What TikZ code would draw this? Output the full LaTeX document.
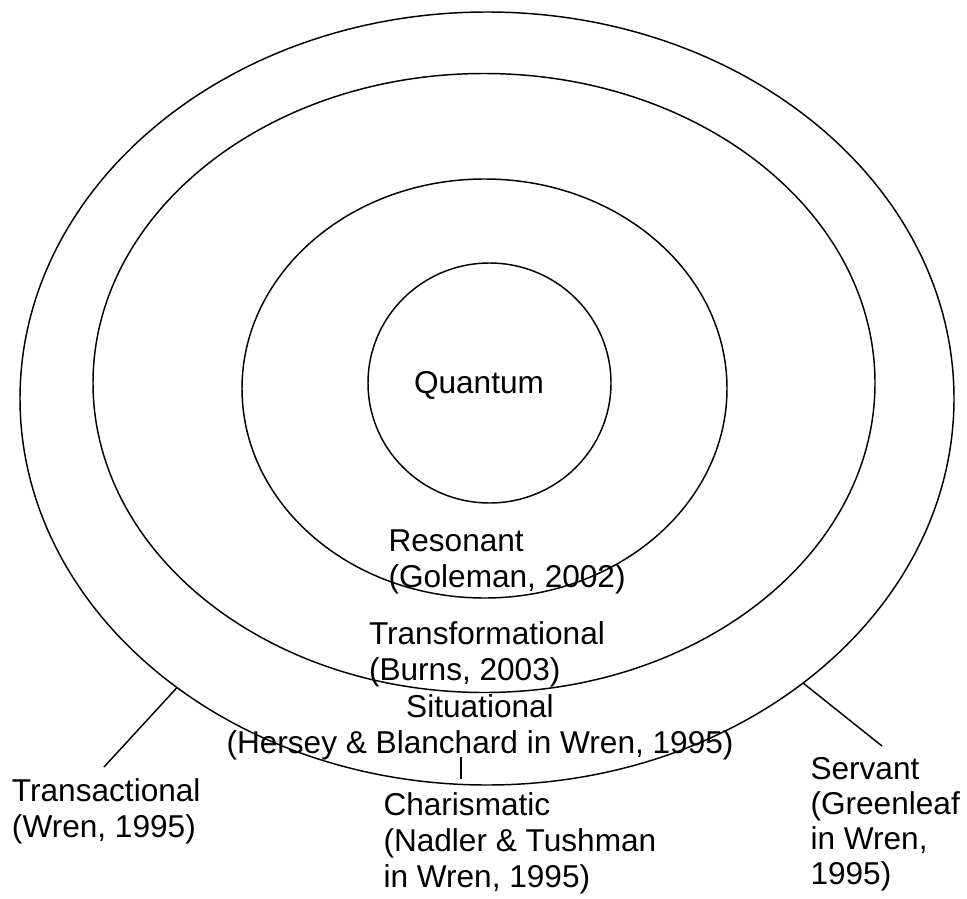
\documentclass[tikz,border=0pt]{standalone}
\usepackage{fontspec}
\setmainfont{Liberation Sans}
\usetikzlibrary{shapes.geometric}
\begin{document}
\begin{tikzpicture}[x=0.75pt,y=-0.75pt,
  ring/.style={draw, ellipse, inner sep=0pt, outer sep=0pt, line width=1.1pt},
  lbl/.style={inner sep=0pt, outer sep=0pt, anchor=north west, align=left, font=\fontsize{23.7}{27}\selectfont},
  clbl/.style={lbl, anchor=north, align=center},
  lead/.style={line width=1.1pt}]
\useasboundingbox (0,0) rectangle (967,899);
\node[ring, minimum width=700.5pt, minimum height=579.75pt] (outer) at (487,398.5) {};
\node[ring, minimum width=586.5pt, minimum height=464.25pt] (second) at (484,383) {};
\node[ring, minimum width=363.75pt, minimum height=314.25pt] (third) at (484.5,388.5) {};
\node[ring, minimum width=182.25pt, minimum height=180pt] (inner) at (489.5,383) {};
\node[lbl, anchor=base] (quantum) at (479,393) {Quantum};
\node[lbl] (resonant) at (388.5,525.8) {\strut Resonant\\(Goleman, 2002)};
\node[lbl] (transf) at (369,618.8) {\strut Transformational\\(Burns, 2003)};
\node[clbl] (situ) at (480,691.8) {\strut Situational\\(Hersey \& Blanchard in Wren, 1995)};
\node[lbl] (trans) at (12,775.8) {\strut Transactional\\(Wren, 1995)};
\node[lbl] (charis) at (383.5,789.8) {\strut Charismatic\\(Nadler \& Tushman\\in Wren, 1995)};
\node[lbl, font=\fontsize{23.7}{26.3}\selectfont] (servant) at (810.5,754.8) {\strut Servant\\(Greenleaf\\in Wren,\\1995)};
\coordinate (tE) at (104,767);
\coordinate (sE) at (882,746);
\coordinate (cA) at (461,757);
\coordinate (cB) at (461,779);
\draw[lead] (outer.223.6) -- (tE);
\draw[lead] (outer.318.5) -- (sE);
\draw[lead] (cA) -- (cB);
\end{tikzpicture}
\end{document}
